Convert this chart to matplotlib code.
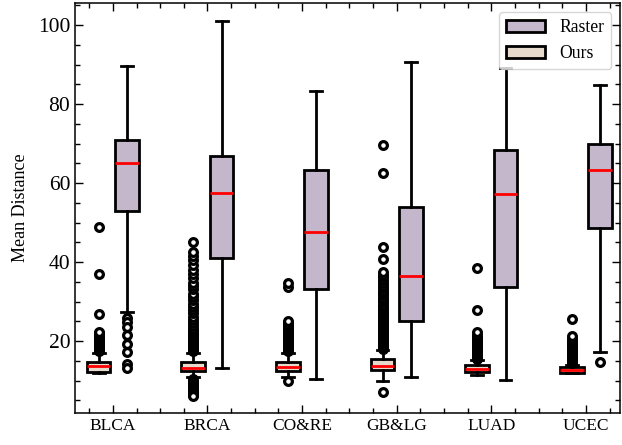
import matplotlib
matplotlib.use("Agg")
import matplotlib.pyplot as plt
import numpy as np
from matplotlib.patches import Patch
from matplotlib.ticker import AutoMinorLocator, MultipleLocator

plt.rcParams["font.family"] = ["Liberation Serif", "DejaVu Serif"]

categories = ["BLCA", "BRCA", "CO&RE", "GB&LG", "LUAD", "UCEC"]

# Raster: box statistics
raster_q1 = [52.9, 41.1, 33.1, 25.1, 33.7, 48.6]
raster_med = [65.1, 57.6, 47.7, 36.5, 57.2, 63.3]
raster_q3 = [70.9, 66.8, 63.3, 54.0, 68.4, 69.9]
raster_lo = [27.4, 13.1, 10.5, 11.0, 10.1, 17.3]
raster_hi = [89.7, 101.1, 83.3, 90.7, 89.0, 84.8]
raster_fliers = [
    [25.8, 24.8, 23.5, 21.5, 19.3, 17.3, 14.3, 13.3],
    [],
    [],
    [],
    [],
    [14.8],
]

# Ours
ours_q1 = [12.3, 12.5, 12.5, 12.8, 12.1, 12.0]
ours_med = [13.6, 13.3, 13.4, 13.8, 12.9, 12.7]
ours_q3 = [14.8, 14.8, 14.8, 15.5, 13.9, 13.5]
ours_lo = [12.0, 11.0, 11.0, 10.0, 11.3, 12.0]
ours_hi = [17.0, 17.0, 17.0, 17.7, 15.2, 13.9]
ours_fliers = [
    [17.5, 18.0, 18.5, 19.0, 19.5, 20.0, 20.5, 21.0, 21.5, 22.0, 22.4,
     26.8, 37.0, 48.8],
    [17.5, 18.0, 18.5, 19.0, 19.5, 20.0, 20.5, 21.0, 21.5, 22.0, 22.5,
     23.0, 23.8, 24.6, 25.4, 26.2, 27.0, 27.8, 28.6, 29.5, 30.4, 31.2,
     32.0, 33.1, 34.0, 34.8, 35.9, 37.0, 38.1, 39.3, 40.5, 41.5, 42.6,
     45.1,
     10.4, 9.9, 9.4, 8.9, 8.4, 7.9, 7.4, 6.9, 6.4, 6.0],
    [17.5, 18.0, 18.5, 19.0, 19.5, 20.0, 20.5, 21.0, 21.5, 22.0, 22.5,
     23.0, 23.5, 24.0, 24.5, 25.2, 33.8, 34.6, 9.95],
    [18.0, 18.5, 19.0, 19.5, 20.0, 20.5, 21.0, 21.5, 22.0, 22.5, 23.0,
     23.5, 24.0, 24.5, 25.0, 25.5, 26.0, 26.5, 27.0, 27.5, 28.0, 28.6,
     29.2, 29.8, 30.4, 31.0, 31.6, 32.2, 32.8, 33.4, 34.0, 34.7, 35.4,
     36.1, 36.8, 37.5, 40.9, 43.9, 62.6, 69.6, 7.2],
    [15.5, 16.0, 16.5, 17.0, 17.5, 18.0, 18.5, 19.0, 19.5, 20.0, 20.5,
     21.0, 21.5, 22.2, 27.8, 38.4],
    [14.5, 15.0, 15.5, 16.0, 16.5, 17.0, 17.5, 18.0, 18.5, 19.0, 19.5,
     20.0, 20.5, 21.3, 25.7],
]

raster_color = "#c4b7cc"
ours_color = "#e6dacc"


def make_stats(q1, med, q3, lo, hi, fliers):
    return [
        {"q1": a, "med": b, "q3": c, "whislo": d, "whishi": e, "fliers": f}
        for a, b, c, d, e, f in zip(q1, med, q3, lo, hi, fliers)
    ]


fig = plt.figure(figsize=(6.22, 4.45), dpi=100)
ax = fig.add_axes([0.1206, 0.0719, 0.8762, 0.9207])

centers = np.arange(len(categories)) * 2.0
lw = 2.0
common = dict(
    widths=0.5,
    patch_artist=True,
    manage_ticks=False,
    whiskerprops=dict(color="black", linewidth=lw),
    capprops=dict(color="black", linewidth=lw),
    medianprops=dict(color="red", linewidth=lw),
    flierprops=dict(marker="o", markersize=5.6, markerfacecolor="white",
                    markeredgecolor="black", markeredgewidth=2.3),
)

ax.bxp(make_stats(ours_q1, ours_med, ours_q3, ours_lo, ours_hi, ours_fliers),
       positions=centers - 0.3,
       boxprops=dict(facecolor=ours_color, edgecolor="black", linewidth=lw),
       **common)
ax.bxp(make_stats(raster_q1, raster_med, raster_q3, raster_lo, raster_hi, raster_fliers),
       positions=centers + 0.3,
       boxprops=dict(facecolor=raster_color, edgecolor="black", linewidth=lw),
       **common)

ax.set_xticks(centers)
ax.set_xticklabels(categories, fontsize=12.5)
ax.xaxis.set_minor_locator(AutoMinorLocator(4))
ax.set_xlim(-0.8, 10.72)
ax.set_ylim(1.8, 105.5)
ax.yaxis.set_major_locator(MultipleLocator(20))
ax.yaxis.set_minor_locator(AutoMinorLocator(4))
ax.tick_params(axis="y", labelsize=15.5)
ax.set_ylabel("Mean Distance", fontsize=13, labelpad=6)

ax.tick_params(which="both", direction="in", top=True, right=True, width=1.0)
ax.tick_params(which="major", length=6)
ax.tick_params(which="minor", length=3.5)
for spine in ax.spines.values():
    spine.set_linewidth(1.1)

handles = [
    Patch(facecolor=raster_color, edgecolor="black", linewidth=lw, label="Raster"),
    Patch(facecolor=ours_color, edgecolor="black", linewidth=lw, label="Ours"),
]
ax.legend(handles=handles, loc="upper right", fontsize=12.7,
          handlelength=2.2, borderaxespad=0.5)

fig.savefig("out.png", dpi=100)
